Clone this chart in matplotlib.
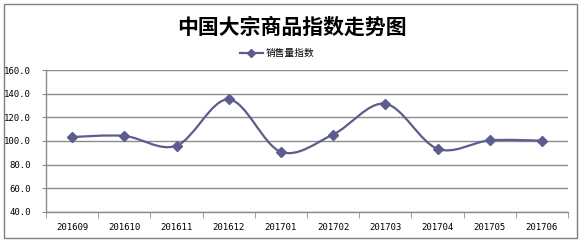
import matplotlib.pyplot as plt
import numpy as np
from matplotlib.path import Path
from matplotlib.patches import PathPatch, Rectangle
from matplotlib.lines import Line2D

plt.rcParams['font.family'] = ['Noto Sans CJK SC', 'DejaVu Sans']

title = "中国大宗商品指数走势图"
series_name = "销售量指数"
months = ["201609", "201610", "201611", "201612", "201701",
          "201702", "201703", "201704", "201705", "201706"]
values = [103.4, 104.3, 96.0, 135.3, 90.8, 105.5, 131.6, 93.4, 100.5, 100.3]
yticks = [40, 60, 80, 100, 120, 140, 160]

line_color = "#5c5c8e"
grid_color = "#8c8c8c"

fig = plt.figure(figsize=(5.82, 2.43), dpi=100)
fig.patches.append(Rectangle((4 / 582, 1 - 238 / 243), 573 / 582, 234 / 243,
                             transform=fig.transFigure, fill=False,
                             edgecolor="#7f7f7f", linewidth=1))

ax = fig.add_axes([46 / 582, 1 - 211.7 / 243, 522 / 582, 141.4 / 243])

x = np.arange(len(months))
y = np.array(values)

# smoothed line like a spreadsheet chart (Catmull-Rom -> Bezier)
pts = np.column_stack([x, y]).astype(float)
ext = np.vstack([pts[0], pts, pts[-1]])
verts = [tuple(pts[0])]
codes = [Path.MOVETO]
for i in range(len(pts) - 1):
    p0, p1, p2, p3 = ext[i], ext[i + 1], ext[i + 2], ext[i + 3]
    c1 = p1 + (p2 - p0) / 6
    c2 = p2 - (p3 - p1) / 6
    verts += [tuple(c1), tuple(c2), tuple(p2)]
    codes += [Path.CURVE4] * 3
ax.add_patch(PathPatch(Path(verts, codes), facecolor="none",
                       edgecolor=line_color, linewidth=1.6, zorder=3))
ax.plot(x, y, linestyle="none", marker="D", markersize=5,
        color=line_color, zorder=4)

ax.set_xlim(-0.5, len(months) - 0.5)
ax.set_ylim(40, 160)
ax.set_yticks(yticks)
ax.set_yticklabels([f"{v:.1f}" for v in yticks], family="DejaVu Sans Mono",
                   fontsize=6.5)
ax.set_xticks(x)
ax.set_xticklabels(months, family="DejaVu Sans Mono", fontsize=6.5)
ax.set_xticks(np.arange(-0.5, len(months)), minor=True)
ax.tick_params(axis="x", which="major", length=0, pad=8)
ax.tick_params(axis="x", which="minor", length=4, color=grid_color, direction="out")
ax.tick_params(axis="y", length=3, color=grid_color, pad=8)
ax.yaxis.grid(True, color=grid_color, linewidth=1)
ax.set_axisbelow(True)
for s in ["top", "right"]:
    ax.spines[s].set_visible(False)
for s in ["left", "bottom"]:
    ax.spines[s].set_color(grid_color)
    ax.spines[s].set_linewidth(1)

fig.text(292 / 582, 1 - 27 / 243, title, ha="center", va="center",
         fontsize=15, fontweight="bold")

handle = Line2D([], [], color=line_color, linewidth=1.6, marker="D", markersize=4)
fig.legend([handle], [series_name], loc="center", bbox_to_anchor=(277 / 582, 1 - 53 / 243),
           frameon=False, fontsize=7, handlelength=2.4, handletextpad=0.3)

fig.savefig("out.png", dpi=100)
